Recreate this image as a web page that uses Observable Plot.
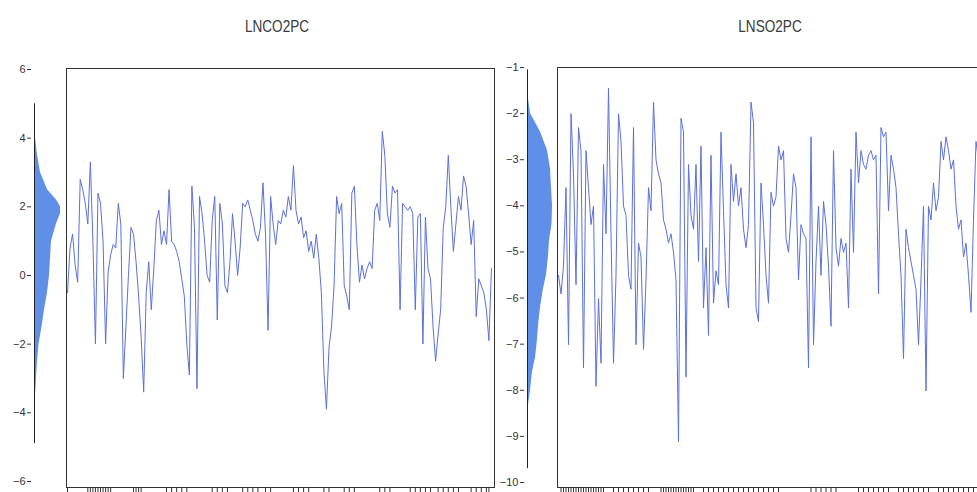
<!DOCTYPE html>
<html><head><meta charset="utf-8">
<script src="https://cdn.jsdelivr.net/npm/d3@7"></script>
<script src="https://cdn.jsdelivr.net/npm/@observablehq/plot@0.6"></script>
<style>
html,body{margin:0;padding:0;background:#fff;}
#root{position:relative;width:977px;height:492px;overflow:hidden;background:#fff;font-family:"Liberation Sans Narrow","Liberation Sans",Arial,sans-serif;}
.title{position:absolute;top:17px;font-size:17px;color:#3a3a3a;transform:translateX(-50%) scaleX(0.8);white-space:nowrap;line-height:20px;}
.panel{position:absolute;top:0;}
</style></head><body><div id="root"></div>
<script>
const titles = ["LNCO2PC", "LNSO2PC"];

const co2Values = [-0.5,0.8,1.2,0.3,-0.2,2.8,2.5,2.1,1.5,3.3,
 1.0,-2.0,2.4,2.1,1.0,-2.0,0.1,0.6,0.9,0.8,
 2.1,1.5,-3.0,-1.5,0.0,1.4,1.2,0.4,-0.6,-1.8,
 -3.4,-0.5,0.4,-1.0,0.2,1.6,1.9,0.9,1.3,0.9,
 2.5,1.0,0.9,0.7,0.4,-0.1,-0.6,-2.0,-2.9,2.6,
 1.4,-3.3,2.3,1.8,1.0,0.0,-0.2,1.6,2.3,-1.3,
 2.1,1.5,-0.3,-0.5,0.4,1.8,1.0,0.0,0.8,2.1,
 2.0,2.2,1.9,1.6,1.2,1.0,1.4,2.7,1.2,-1.6,
 2.3,1.5,0.9,1.6,1.5,1.9,1.7,2.3,1.9,3.2,
 1.9,1.5,1.7,1.1,1.3,0.7,1.0,0.5,1.2,0.5,
 -0.5,-2.8,-3.9,-2.1,-1.5,-0.3,2.3,1.8,2.1,-0.3,
 -0.6,-1.0,2.4,2.6,0.9,-0.2,0.3,-0.1,0.2,0.4,
 0.2,1.9,2.1,1.6,4.2,3.5,1.8,1.4,2.6,2.4,
 2.5,-1.0,2.1,2.0,1.9,2.0,1.8,-1.0,1.7,1.8,
 -2.0,1.7,0.2,-0.1,-1.5,-2.5,-1.7,-1.0,1.4,2.0,
 3.5,2.0,0.7,1.5,2.3,1.9,2.9,2.6,1.8,0.9,
 1.6,-1.2,-0.1,-0.3,-0.5,-1.0,-1.9,0.2];

const so2Values = [-5.5,-5.9,-5.3,-3.6,-7.0,-2.0,-3.3,-5.7,-2.3,-2.8,
 -7.5,-2.8,-3.6,-4.4,-4.0,-7.9,-6.0,-7.4,-3.1,-4.6,
 -1.45,-4.6,-7.4,-5.5,-2.0,-2.6,-4.0,-4.2,-5.5,-5.8,
 -2.3,-7.0,-4.8,-5.1,-7.1,-5.6,-3.6,-4.1,-1.75,-3.0,
 -3.3,-3.5,-4.3,-4.5,-4.8,-4.6,-5.0,-5.6,-9.1,-2.1,
 -2.4,-7.7,-3.1,-4.2,-4.5,-3.1,-5.2,-2.7,-6.2,-4.9,
 -6.8,-2.9,-6.1,-5.4,-5.7,-2.4,-4.1,-5.7,-6.2,-3.1,
 -3.9,-3.3,-4.0,-3.6,-4.5,-4.9,-4.4,-1.75,-2.2,-6.2,
 -6.5,-3.5,-4.4,-5.5,-6.1,-3.7,-4.0,-3.8,-2.7,-3.0,
 -2.8,-4.7,-5.0,-4.2,-3.3,-3.6,-5.6,-4.4,-4.6,-4.7,
 -7.5,-2.5,-7.0,-5.2,-4.0,-5.5,-3.9,-4.4,-5.3,-6.6,
 -2.8,-4.9,-5.3,-4.7,-5.0,-4.8,-6.2,-3.2,-5.0,-2.4,
 -3.5,-2.8,-3.1,-3.2,-2.9,-2.8,-3.0,-2.9,-5.9,-2.3,
 -2.5,-2.4,-4.1,-2.9,-3.2,-3.6,-4.6,-5.5,-7.3,-4.5,
 -4.9,-5.2,-5.5,-5.8,-7.0,-5.6,-4.0,-8.0,-4.0,-4.3,
 -3.5,-4.1,-3.8,-2.6,-3.0,-2.5,-2.8,-3.2,-3.0,-4.0,
 -4.5,-4.3,-5.1,-4.8,-5.5,-6.3,-4.3,-2.6,-3.0];

// kernel density (value level, density)
const co2DensLevels = [5.0,4.5,4.0,3.5,3.0,2.5,2.2,2.0,1.8,1.5,1.2,1.0,0.5,0.0,-0.5,-1.0,-1.5,-2.0,-2.5,-3.0,-3.5,-4.0,-4.9];
const co2Density    = [0,0.002,0.010,0.030,0.060,0.130,0.220,0.260,0.260,0.220,0.190,0.170,0.160,0.150,0.130,0.100,0.075,0.045,0.030,0.020,0.010,0.005,0];
const so2DensLevels = [-1.05,-1.6,-2.0,-2.4,-2.8,-3.2,-3.6,-4.0,-4.4,-4.75,-5.1,-5.5,-5.8,-6.2,-6.6,-6.9,-7.3,-7.6,-8.0,-8.4,-9.0,-9.7];
const so2Density    = [0,0.005,0.03,0.13,0.20,0.23,0.24,0.25,0.245,0.22,0.21,0.19,0.16,0.13,0.11,0.10,0.08,0.05,0.03,0.005,0.001,0];

const co2YTicks = [6,4,2,0,-2,-4,-6];
const so2YTicks = [-1,-2,-3,-4,-5,-6,-7,-8,-9,-10];
const co2XTicks = [0,8,9,10,11,12,13,14,15,16,17,26,27,28,29,39,41,43,45,47,57,59,61,63,69,71,73,75,78,80,89,91,93,95,101,103,109,111,113,123,125,127,135,137,139,141,143,146,148,150,152,154,159,161,163,165,166];
const so2XTicks = [1,2,3,4,5,6,7,8,9,10,11,12,13,14,15,16,17,18,22,24,26,28,30,32,34,36,41,42,43,44,45,46,47,48,49,50,51,52,53,54,58,60,62,64,66,68,70,72,74,76,78,80,82,84,86,88,101,103,105,107,109,111,120,122,124,126,128,130,132,136,138,140,142,144,146,148,152,154,156,158,160,162,164,166];

const root = document.getElementById("root");
const baseStyle = {fontFamily: '"Liberation Sans Narrow","Liberation Sans",Arial,sans-serif', fontSize: "11px", color: "#333", background: "transparent", overflow: "visible"};
const lineColor = "#5b70dc";
const fillColor = "#5f8fe6";

function place(el, left) {
  el.classList.add("panel");
  el.style.left = left + "px";
  root.appendChild(el);
}

function linePanel(values, ticks, xDomain, yDomain, left, marginTop) {
  const rows = values.map((v, i) => ({i, v}));
  const p = Plot.plot({
    width: 440, height: 492,
    marginLeft: 6, marginRight: 6, marginTop, marginBottom: 5,
    style: baseStyle,
    x: {domain: xDomain, label: null},
    y: {domain: yDomain, axis: null},
    marks: [
      Plot.lineY(rows, {x: "i", y: "v", stroke: lineColor, strokeWidth: 1}),
      Plot.frame({stroke: "#333", strokeWidth: 1}),
      Plot.axisX(ticks, {tickSize: 5, tickFormat: () => "", stroke: "#333"})
    ]
  });
  place(p, left);
}

function densPanel(levels, dens, yDomain, yTicks, left, marginLeft, marginTop, marginBottom) {
  const rows = levels.map((v, k) => ({v, d: dens[k]}));
  const p = Plot.plot({
    width: marginLeft + 3 + 30, height: 492,
    marginLeft, marginRight: 0, marginTop, marginBottom,
    insetLeft: 3,
    style: baseStyle,
    x: {domain: [0, 0.30], axis: null},
    y: {domain: yDomain, label: null},
    marks: [
      Plot.areaX(rows, {x: "d", y: "v", fill: fillColor}),
      Plot.ruleX([0], {y1: levels[0], y2: levels[levels.length - 1], stroke: "#222", strokeWidth: 1}),
      Plot.axisY(yTicks, {tickSize: 4, tickPadding: 2, stroke: "#333"})
    ]
  });
  place(p, left);
}

linePanel(co2Values, co2XTicks, [-0.4, 168.2], [-6.18, 6.03], 60, 68);
linePanel(so2Values, so2XTicks, [-0.4, 170.8], [-10.09, -1], 551, 67);
densPanel(co2DensLevels, co2Density, [-6, 6], co2YTicks, 0, 31, 69, 11);
densPanel(so2DensLevels, so2Density, [-10, -1], so2YTicks, 496, 28, 67, 10);

[[titles[0], 277], [titles[1], 770]].forEach(([t, cx]) => {
  const d = document.createElement("div");
  d.className = "title";
  d.style.left = cx + "px";
  d.textContent = t;
  root.appendChild(d);
});
</script>
</body></html>
